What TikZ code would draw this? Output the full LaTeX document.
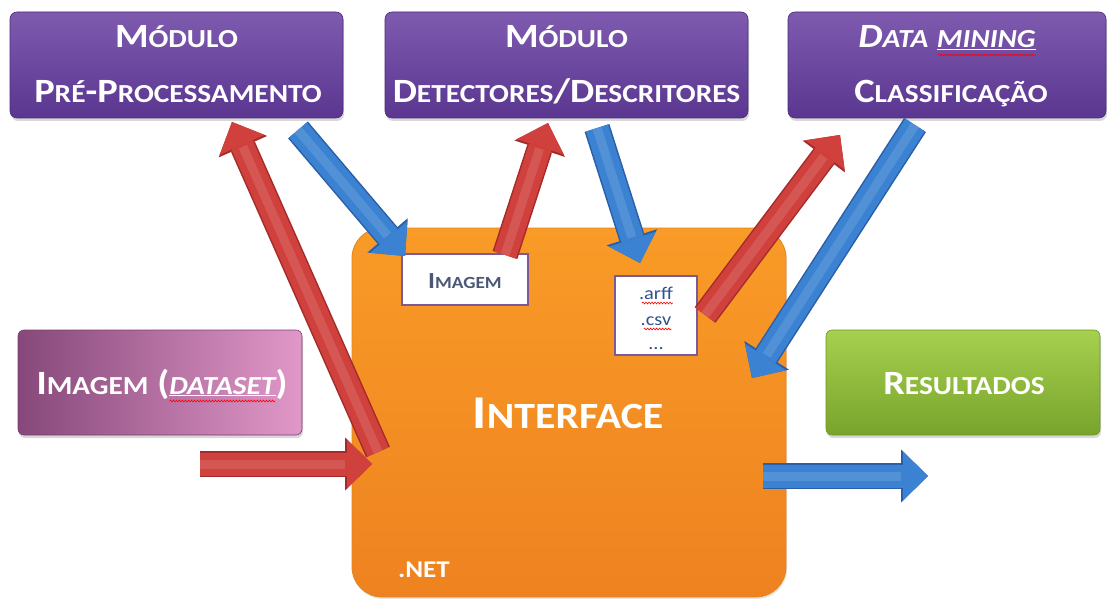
\documentclass[tikz,border=0pt]{standalone}
\usepackage{fontspec}
\setmainfont{Carlito}[FakeStretch=1.13]
\usetikzlibrary{arrows.meta,shadows,calc,decorations.pathmorphing}

\definecolor{purpTop}{HTML}{7E5BAF}
\definecolor{purpBot}{HTML}{5A3690}
\definecolor{purpLine}{HTML}{4B2C78}
\definecolor{orTop}{HTML}{F99B27}
\definecolor{orBot}{HTML}{EE8220}
\definecolor{orLine}{HTML}{E4861C}
\definecolor{pinkL}{HTML}{86487A}
\definecolor{pinkR}{HTML}{E198C8}
\definecolor{pinkLine}{HTML}{7A3F6E}
\definecolor{greenTop}{HTML}{A6D04E}
\definecolor{greenBot}{HTML}{78A42C}
\definecolor{greenLine}{HTML}{6C9628}
\definecolor{arrRed}{HTML}{D0403C}
\definecolor{arrRedD}{HTML}{A52B2A}
\definecolor{arrBlue}{HTML}{3C82D2}
\definecolor{arrBlueD}{HTML}{2A5FA8}
\definecolor{inkSlate}{HTML}{4A5878}
\definecolor{inkBlue}{HTML}{2F5190}
\definecolor{boxEdge}{HTML}{7A5A98}

% small-cap lowercase part of a word
\newcommand\Sm[1]{{\fontsize{26}{26}\selectfont #1}}
\newcommand\SmI[1]{{\fontsize{37}{37}\selectfont #1}}
\newcommand\SmS[1]{{\fontsize{17}{17}\selectfont #1}}

\begin{document}
\begin{tikzpicture}[x=1pt,y=-1pt,
  every node/.style={inner sep=0pt, outer sep=0pt},
  modbox/.style={rectangle, rounded corners=7pt, draw=purpLine, line width=0.6pt,
    top color=purpTop, bottom color=purpBot, minimum height=106pt,
    drop shadow={shadow xshift=1pt, shadow yshift=-3pt, opacity=0.3}},
  sidebox/.style={rectangle, rounded corners=6pt, line width=0.6pt, minimum height=105pt,
    drop shadow={shadow xshift=1pt, shadow yshift=-3pt, opacity=0.3}},
  label/.style={anchor=base, text=white, font=\bfseries\fontsize{34}{34}\selectfont},
  filebox/.style={rectangle, draw=boxEdge, line width=1.4pt, fill=white},
  squiggle/.style={draw=red, line width=0.6pt, decorate,
    decoration={snake, amplitude=0.9pt, segment length=3pt}},
  redarr/.style={draw=arrRed, line width=23pt,
    -{Triangle[width=49pt,length=25pt,line width=0pt]},
    preaction={draw=arrRedD, line width=26pt, -{Triangle[width=53pt,length=27pt,line width=0pt]}},
    postaction={draw=white, draw opacity=0.12, line width=9pt, shorten >=27pt, -}},
  bluearr/.style={draw=arrBlue, line width=23pt,
    -{Triangle[width=49pt,length=25pt,line width=0pt]},
    preaction={draw=arrBlueD, line width=26pt, -{Triangle[width=53pt,length=27pt,line width=0pt]}},
    postaction={draw=white, draw opacity=0.12, line width=9pt, shorten >=27pt, -}}
]
\useasboundingbox (0,0) rectangle (1109,599);
\fill[white] (0,0) rectangle (1109,599);

% module boxes along the top
\node[modbox, minimum width=333pt] (pre) at (176.5,65) {};
\node[label] (pre1) at (176.5,48) {M\Sm{ÓDULO}};
\node[label] (pre2) at (178,103) {P\Sm{RÉ}-P\Sm{ROCESSAMENTO}};

\node[modbox, minimum width=363pt] (det) at (566.5,65) {};
\node[label] (det1) at (566.5,48) {M\Sm{ÓDULO}};
\node[label] (det2) at (566.5,103) {D\Sm{ETECTORES}/D\Sm{ESCRITORES}};

\node[modbox, minimum width=318pt] (dm) at (947,65) {};
\node[label, font=\bfseries\itshape\fontsize{34}{34}\selectfont] (dm1) at (947,48) {D\Sm{ATA} \underline{\Sm{MINING}}};
\node[label] (dm2) at (951,103) {C\Sm{LASSIFICAÇÃO}};
\draw[squiggle] ($(dm1.base west)!0.45!(dm1.base east)+(0,7)$) -- ($(dm1.base east)+(0,7)$);

% input and output boxes
\node[sidebox, minimum width=284pt, draw=pinkLine, left color=pinkL, right color=pinkR] (data) at (160,382.5) {};
\node[label] (datat) at (162,394) {I\Sm{MAGEM} ({\itshape\underline{\Sm{DATASET}}})};
\draw[squiggle] ($(datat.base west)!0.53!(datat.base east)+(0,7)$) -- ($(datat.base west)!0.95!(datat.base east)+(0,7)$);

\node[sidebox, minimum width=274pt, draw=greenLine, top color=greenTop, bottom color=greenBot] (res) at (963,382.5) {};
\node[label] (rest) at (964,394) {R\Sm{ESULTADOS}};

% central interface block
\node[rectangle, rounded corners=30pt, draw=orLine, line width=0.8pt, top color=orTop, bottom color=orBot,
  minimum width=434pt, minimum height=369pt,
  drop shadow={shadow xshift=1pt, shadow yshift=-2pt, opacity=0.2}] (iface) at (569,412.5) {};
\node[label, font=\bfseries\fontsize{47}{47}\selectfont] (ifacet) at (568,428) {I\SmI{NTERFACE}};
\node[label, font=\bfseries\fontsize{24}{24}\selectfont] (net) at (424,577) {.NET};

% file boxes inside the interface
\node[filebox, minimum width=126pt, minimum height=51pt] (img) at (465,279.5) {};
\node[label, text=inkSlate, font=\bfseries\fontsize{23}{23}\selectfont] (imgt) at (465,288) {I\SmS{MAGEM}};

\node[filebox, minimum width=82pt, minimum height=79pt] (arff) at (656,315.5) {};
\node[label, text=inkBlue, font=\fontsize{18}{18}\selectfont] (f1) at (656,299) {.arff};
\node[label, text=inkBlue, font=\fontsize{18}{18}\selectfont] (f2) at (656,325) {.csv};
\node[label, text=inkBlue, font=\fontsize{18}{18}\selectfont] (f3) at (656,349) {...};
\draw[squiggle] ($(f1.base west)+(3,4)$) -- ($(f1.base east)+(0,4)$);
\draw[squiggle] ($(f2.base west)+(3,4)$) -- ($(f2.base east)+(0,4)$);

% arrow end points
\coordinate (a1s) at (378,452);  \coordinate (a1e) at (232,122);
\coordinate (a2s) at (298,130);  \coordinate (a2e) at (405,256);
\coordinate (a3s) at (505,255);  \coordinate (a3e) at (548,123);
\coordinate (a4s) at (597,128);  \coordinate (a4e) at (640,263);
\coordinate (a5s) at (705,315);  \coordinate (a5e) at (840,135);
\coordinate (a6s) at (915,125);  \coordinate (a6e) at (752,378);
\coordinate (a7s) at (200,464);  \coordinate (a7e) at (372,464);
\coordinate (a8s) at (763,476);  \coordinate (a8e) at (928,476);

% data flow arrows
\draw[redarr]  (a1s) -- (a1e);
\draw[bluearr] (a2s) -- (a2e);
\draw[redarr]  (a3s) -- (a3e);
\draw[bluearr] (a4s) -- (a4e);
\draw[redarr]  (a5s) -- (a5e);
\draw[bluearr] (a6s) -- (a6e);
\draw[redarr]  (a7s) -- (a7e);
\draw[bluearr] (a8s) -- (a8e);
\end{tikzpicture}
\end{document}
